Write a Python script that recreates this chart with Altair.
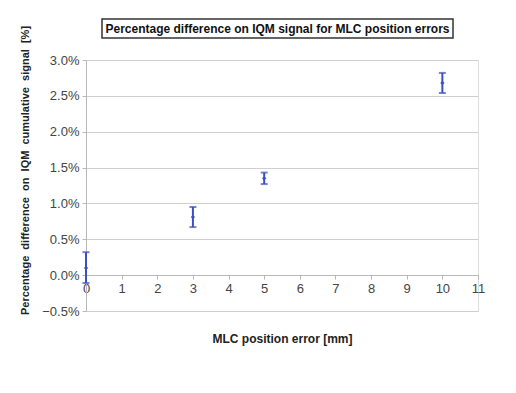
import altair as alt
import pandas as pd

# data (percent)
mlc_error_mm = [0, 3, 5, 10]
mean_pct = [0.10, 0.81, 1.35, 2.68]
lower_pct = [-0.11, 0.67, 1.27, 2.54]
upper_pct = [0.32, 0.95, 1.43, 2.82]

title_text = "Percentage difference on IQM signal for MLC position errors"
x_title = "MLC position error [mm]"
y_title = "Percentage\u00a0 difference\u00a0 on\u00a0 IQM\u00a0 cumulative\u00a0 signal\u00a0 [%]"
x_ticks = list(range(0, 12))
y_ticks = [-0.5, 0.0, 0.5, 1.0, 1.5, 2.0, 2.5, 3.0]

df = pd.DataFrame({"x": mlc_error_mm, "m": mean_pct, "lo": lower_pct, "hi": upper_pct})

FONT = "Liberation Sans"
BLUE = "#3b4fc4"

xscale = alt.Scale(domain=[0, 11], nice=False, zero=False)
yscale = alt.Scale(domain=[-0.5, 3.0], nice=False, zero=False)

xaxis = alt.Axis(values=x_ticks, format="d", grid=False, offset=-36,
                 domainColor="#b8b8b8", tickColor="#b8b8b8", tickSize=4,
                 labelFont=FONT, labelFontSize=13, labelColor="#444", labelPadding=3,
                 labelFlush=False, labelBound=False, labelOverlap=False,
                 title=x_title, titleFont=FONT, titleFontSize=12, titleFontWeight="bold",
                 titleColor="#222", titlePadding=38)
yaxis = alt.Axis(values=y_ticks, labelExpr="format(datum.value, '.1f') + '%'",
                 labelOverlap=False, grid=True,
                 gridColor="#cfcfcf", domainColor="#b8b8b8", tickColor="#b8b8b8", tickSize=4,
                 labelFont=FONT, labelFontSize=13, labelColor="#444", labelPadding=3,
                 title=y_title, titleFont=FONT, titleFontSize=11, titleFontWeight="bold",
                 titleColor="#222", titleAngle=270, titleX=-61, titleY=110,
                 titleAlign="center", titleBaseline="middle")

X = alt.X("x:Q", scale=xscale, axis=xaxis)

base = alt.Chart(df)

rule = base.mark_rule(color=BLUE, strokeWidth=2).encode(
    x=X, y=alt.Y("lo:Q", scale=yscale, axis=yaxis), y2="hi:Q")
cap_lo = base.mark_tick(color=BLUE, orient="horizontal", size=7, thickness=2).encode(
    x=X, y=alt.Y("lo:Q", scale=yscale, axis=yaxis))
cap_hi = base.mark_tick(color=BLUE, orient="horizontal", size=7, thickness=2).encode(
    x=X, y=alt.Y("hi:Q", scale=yscale, axis=yaxis))
pts = base.mark_point(color=BLUE, filled=True, shape="diamond", size=18, opacity=1).encode(
    x=X, y=alt.Y("m:Q", scale=yscale, axis=yaxis))

box = alt.Chart(pd.DataFrame({"t": [title_text]})).mark_rect(
    fill="white", stroke="#333", strokeWidth=1.5
).encode(x=alt.value(16), x2=alt.value(367), y=alt.value(-41), y2=alt.value(-22))
ttl = alt.Chart(pd.DataFrame({"t": [title_text]})).mark_text(
    font=FONT, fontSize=12, fontWeight="bold", color="#111", align="center", baseline="middle"
).encode(x=alt.value(191.5), y=alt.value(-31.5), text="t:N")

chart = alt.layer(rule, cap_lo, cap_hi, pts, box, ttl).properties(
    width=392, height=251,
    autosize=alt.AutoSizeParams(type="none"),
    padding={"left": 78, "top": 52, "right": 30, "bottom": 70},
).configure_view(stroke="#b8b8b8", strokeWidth=1).configure_axis(
    labelOverlap=False
).configure(background="white")

chart.save("out.html", embed_options={"renderer": "svg", "actions": False})
